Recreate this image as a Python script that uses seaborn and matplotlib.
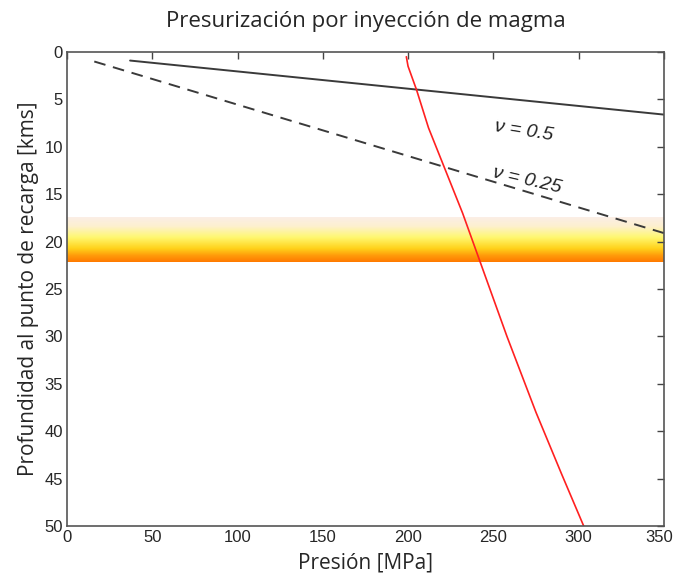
import numpy as np
import pandas as pd
import matplotlib
matplotlib.use("Agg")
import matplotlib.pyplot as plt
import matplotlib.transforms as mtrans
import seaborn as sns
from matplotlib.colors import LinearSegmentedColormap

# data
nu05_pres = [37, 350]
nu05_depth = [0.9, 6.6]
nu025_pres = [16, 350]
nu025_depth = [1.0, 19.1]
red_pres = [199, 200, 205, 212, 222, 232, 242, 258, 275, 290, 303]
red_depth = [0.5, 1.5, 4.0, 8.0, 12.5, 17.0, 22.0, 30.0, 38.0, 44.5, 50.0]
band_top, band_bottom = 17.5, 22.2
xticks = [0, 50, 100, 150, 200, 250, 300, 350]
yticks = [0, 5, 10, 15, 20, 25, 30, 35, 40, 45, 50]

sns.set_theme(style="white")
plt.rcParams['font.family'] = ['Liberation Sans Narrow', 'Liberation Sans', 'DejaVu Sans']

fig = plt.figure(figsize=(6.76, 5.78), dpi=100)
ax = fig.add_axes([0.0991, 0.09, 0.8829, 0.820])

# gradient band
cmap = LinearSegmentedColormap.from_list(
    "band", [(0.0, "#fbeee6"), (0.2, "#fdf0cf"), (0.45, "#fff870"),
             (0.7, "#ffd21a"), (0.86, "#ff9a0a"), (1.0, "#ff7a00")])
grad = np.linspace(0, 1, 200).reshape(-1, 1)
ax.imshow(grad, cmap=cmap, aspect="auto", extent=[0, 350, band_bottom, band_top],
          origin="upper", zorder=0, interpolation="bilinear")

df05 = pd.DataFrame({"p": nu05_pres, "d": nu05_depth})
df025 = pd.DataFrame({"p": nu025_pres, "d": nu025_depth})
dfr = pd.DataFrame({"p": red_pres, "d": red_depth})
sns.lineplot(data=df05, x="p", y="d", ax=ax, color="#3a3a3a", lw=1.4, sort=False, estimator=None)
sns.lineplot(data=df025, x="p", y="d", ax=ax, color="#3a3a3a", lw=1.4, sort=False,
             estimator=None, linestyle=(0, (6, 4)))
sns.lineplot(data=dfr, x="p", y="d", ax=ax, color="#ff2020", lw=1.2, sort=False, estimator=None)

ax.set_xlim(0, 350)
ax.set_ylim(50, 0)
ax.set_xticks(xticks)
ax.set_yticks(yticks)
ax.tick_params(axis="both", direction="in", length=5, width=1, color="#444444",
               labelsize=12, top=True, right=True, pad=3)
for s in ax.spines.values():
    s.set_color("#555555")
    s.set_linewidth(1.2)

# nudge the last x tick label so it stays inside the figure
last = ax.get_xticklabels()[-1]
last.set_transform(last.get_transform() + mtrans.ScaledTranslation(-5 / 100, 0, fig.dpi_scale_trans))

ax.text(268, 8.3, "ν = 0.5", fontsize=14, style="italic", rotation=-9,
        ha="center", va="center", family=["Liberation Sans", "DejaVu Sans"], color="#222222")
ax.text(270, 13.6, "ν = 0.25", fontsize=14, style="italic", rotation=-13,
        ha="center", va="center", family=["Liberation Sans", "DejaVu Sans"], color="#222222")

ax.set_xlabel("Presión [MPa]", fontsize=15, family=["Open Sans", "DejaVu Sans"], labelpad=5)
ax.set_ylabel("Profundidad al punto de recarga [kms]", fontsize=15,
              family=["Open Sans", "DejaVu Sans"], labelpad=4)
ax.set_title("Presurización por inyección de magma", fontsize=16,
             family=["Open Sans", "DejaVu Sans"], pad=18)

fig.savefig("out.png", dpi=100)
